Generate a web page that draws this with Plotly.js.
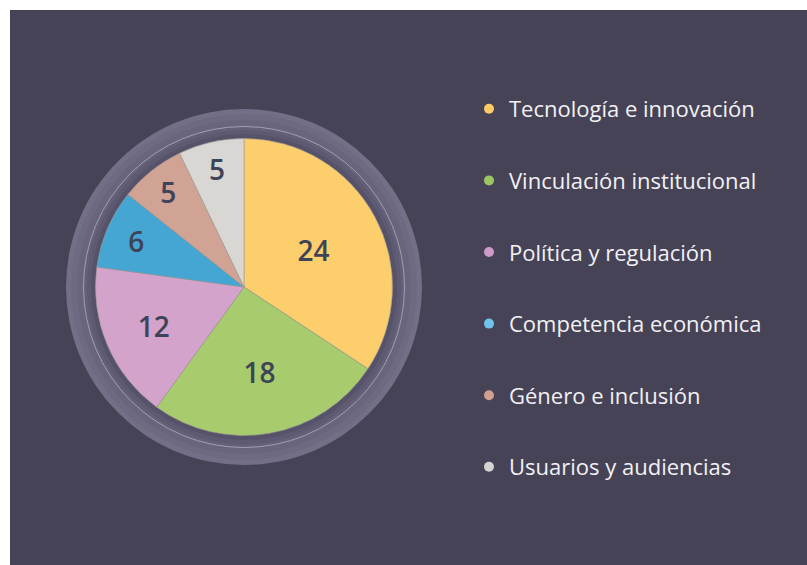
<!DOCTYPE html>
<html>
<head>
<meta charset="utf-8">
<script src="https://cdn.plot.ly/plotly-3.0.1.min.js"></script>
<style>
  html, body { margin: 0; padding: 0; background: #ffffff; width: 807px; height: 565px; overflow: hidden; }
  #chart { position: absolute; left: 10px; top: 10px; width: 797px; height: 555px; }
</style>
</head>
<body>
<div id="chart"></div>
<script>
// ---- data ----
const categories = [
  "Tecnología e innovación",
  "Vinculación institucional",
  "Política y regulación",
  "Competencia económica",
  "Género e inclusión",
  "Usuarios y audiencias"
];
const counts = [24, 18, 12, 6, 5, 5];
const sliceColors = ["#fdcf6c", "#a7cb6d", "#d3a3cb", "#45a6d4", "#d0a395", "#d9d7d3"];
const legendDotColors = ["#fdcb66", "#9cc65f", "#cf9ac9", "#6ec3ee", "#cf9f92", "#d6d4d2"];

// ---- layout geometry (pixels inside the chart div) ----
const W = 797, H = 555;
const cx = 234, cy = 277;      // pie centre (from top-left)
const R = 148.5;               // pie radius

function circle(r, fill, line, lw) {
  return {
    type: "circle", xref: "paper", yref: "paper", layer: "below",
    x0: (cx - r) / W, x1: (cx + r) / W,
    y0: (H - cy - r) / H, y1: (H - cy + r) / H,
    fillcolor: fill,
    line: { color: line || fill, width: lw || 0 }
  };
}

const shapes = [
  circle(178, "#736f86"),
  circle(173, "#6e6a81"),
  circle(167, "#69657c"),
  circle(160.5, "#636077", "#a3a0b2", 1),
  circle(157, "#5d5a71"),
  circle(153, "#555269")
];

const pie = {
  type: "pie",
  labels: categories,
  values: counts,
  sort: false,
  direction: "clockwise",
  rotation: 0,
  marker: { colors: sliceColors, line: { color: "#9f9a93", width: 0.6 } },
  textinfo: "value",
  textposition: "inside",
  insidetextorientation: "horizontal",
  textfont: { family: "Open Sans, sans-serif", size: 28, weight: 600, color: "#3e4357" },
  hoverinfo: "none",
  showlegend: false,
  domain: { x: [(cx - R) / W, (cx + R) / W], y: [(H - cy - R) / H, (H - cy + R) / H] }
};

const legendTraces = categories.map((c, i) => ({
  type: "scatter", mode: "markers",
  x: [null], y: [null],
  name: c,
  legendgroup: "g" + i,
  marker: { color: legendDotColors[i], size: 10, symbol: "circle" },
  hoverinfo: "none",
  showlegend: true
}));

const layout = {
  width: W, height: H,
  margin: { l: 0, r: 0, t: 0, b: 0 },
  paper_bgcolor: "#474357",
  plot_bgcolor: "rgba(0,0,0,0)",
  xaxis: { visible: false, fixedrange: true },
  yaxis: { visible: false, fixedrange: true },
  shapes: shapes,
  showlegend: true,
  legend: {
    x: 459 / W, xanchor: "left",
    y: 1 - 78 / H, yanchor: "top",
    bgcolor: "rgba(0,0,0,0)",
    font: { family: "Open Sans, sans-serif", size: 22, color: "#f2f1f4" },
    tracegroupgap: 40,
    itemclick: false, itemdoubleclick: false
  }
};

Plotly.newPlot("chart", [pie].concat(legendTraces), layout, { displayModeBar: false, staticPlot: true });
</script>
</body>
</html>
